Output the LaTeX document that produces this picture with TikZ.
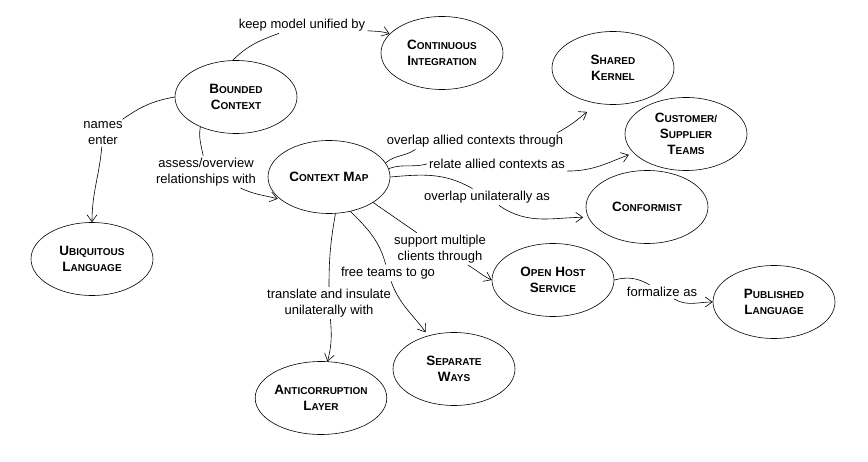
\documentclass[tikz,border=0pt]{standalone}
\usepackage{fontspec}
\setmainfont{Liberation Sans}
\usetikzlibrary{shapes.geometric,arrows.meta}
\newcommand\smc[1]{{\fontsize{10}{16}\selectfont #1}}
\tikzset{
	concept/.style={draw, ellipse, minimum width=122pt, minimum height=73pt, inner sep=0pt, align=center, font=\bfseries\fontsize{13.5}{16}\selectfont},
	lbl/.style={align=center, inner sep=2pt, font=\fontsize{13}{15.5}\selectfont},
}
\begin{document}
\begin{tikzpicture}[x=1pt, y=1pt, line width=0.6pt, >={Straight Barb[length=7pt,width=10pt]}]
		\useasboundingbox (0,0) rectangle (868,-462);
		\node[concept] (bc) at (236,-97) {B\smc{OUNDED}\\C\smc{ONTEXT}};
		\node[concept] (ci) at (442,-53) {C\smc{ONTINUOUS}\\I\smc{NTEGRATION}};
		\node[concept] (cm) at (329,-177) {C\smc{ONTEXT} M\smc{AP}};
		\node[concept] (sk) at (613,-68) {S\smc{HARED}\\K\smc{ERNEL}};
		\node[concept] (cst) at (686,-134) {C\smc{USTOMER/}\\S\smc{UPPLIER}\\T\smc{EAMS}};
		\node[concept] (conf) at (647,-207) {C\smc{ONFORMIST}};
		\node[concept] (ul) at (92,-259) {U\smc{BIQUITOUS}\\L\smc{ANGUAGE}};
		\node[concept, minimum width=130pt] (acl) at (321,-398) {A\smc{NTICORRUPTION}\\L\smc{AYER}};
		\node[concept] (sw) at (454,-369) {S\smc{EPARATE}\\W\smc{AYS}};
		\node[concept] (ohs) at (553,-280) {O\smc{PEN} H\smc{OST}\\S\smc{ERVICE}};
		\node[concept] (pl) at (774,-302) {P\smc{UBLISHED}\\L\smc{ANGUAGE}};

		\node[lbl] (keep) at (302,-25) {keep model unified by};
		\node[lbl] (names) at (103,-133) {names\\enter};
		\node[lbl] (assess) at (206,-172) {assess/overview\\relationships with};
		\node[lbl] (ovl) at (475,-141) {overlap allied contexts through};
		\node[lbl] (relate) at (497,-164) {relate allied contexts as};
		\node[lbl] (ovu) at (487,-197) {overlap unilaterally as};
		\node[lbl] (support) at (440,-249) {support multiple\\clients through};
		\node[lbl] (free) at (388,-273) {free teams to go};
		\node[lbl] (transl) at (329,-303) {translate and insulate\\unilaterally with};
		\node[lbl] (formal) at (662,-292) {formalize as};

		\draw (bc.95) to[out=45,in=200] (keep);
		\draw[->] (keep) to[out=-5,in=160] (ci);
		\draw (bc.west) to[out=190,in=35] (names);
		\draw[->] (names) to[out=-95,in=90] (ul);
		\draw (bc.220) to[out=-100,in=100] (assess);
		\draw[->, shorten >=3pt] (assess) to[out=-25,in=165] (cm.205);
		\draw (cm.14) to[out=40,in=215] (ovl.188);
		\draw[->, shorten >=15pt] ([xshift=-8pt]ovl.north east) to[out=28,in=212] (sk.250);
		\draw (cm.8) to[out=20,in=195] (relate.west);
		\draw[->, shorten >=5pt] (relate.south east) to[out=0,in=200] (cst);
		\draw (cm.east) to[out=5,in=150] (ovu);
		\draw[->, shorten >=5pt] (ovu) to[out=-35,in=180] (conf.190);
		\draw (cm.-30) to[out=-35,in=145] (support);
		\draw[->] (support) to[out=-30,in=155] (ohs.west);
		\draw (cm.-58) to[out=-45,in=105] (free);
		\draw[->, shorten >=4pt] (free) to[out=-70,in=125] (sw.128);
		\draw (cm.-80) to[out=-100,in=90] (transl);
		\draw[->] (transl) to[out=-85,in=75] (acl.80);
		\draw (ohs.east) to[out=15,in=150] (formal);
		\draw[->] (formal) to[out=-30,in=180] (pl.west);
\end{tikzpicture}
\end{document}
